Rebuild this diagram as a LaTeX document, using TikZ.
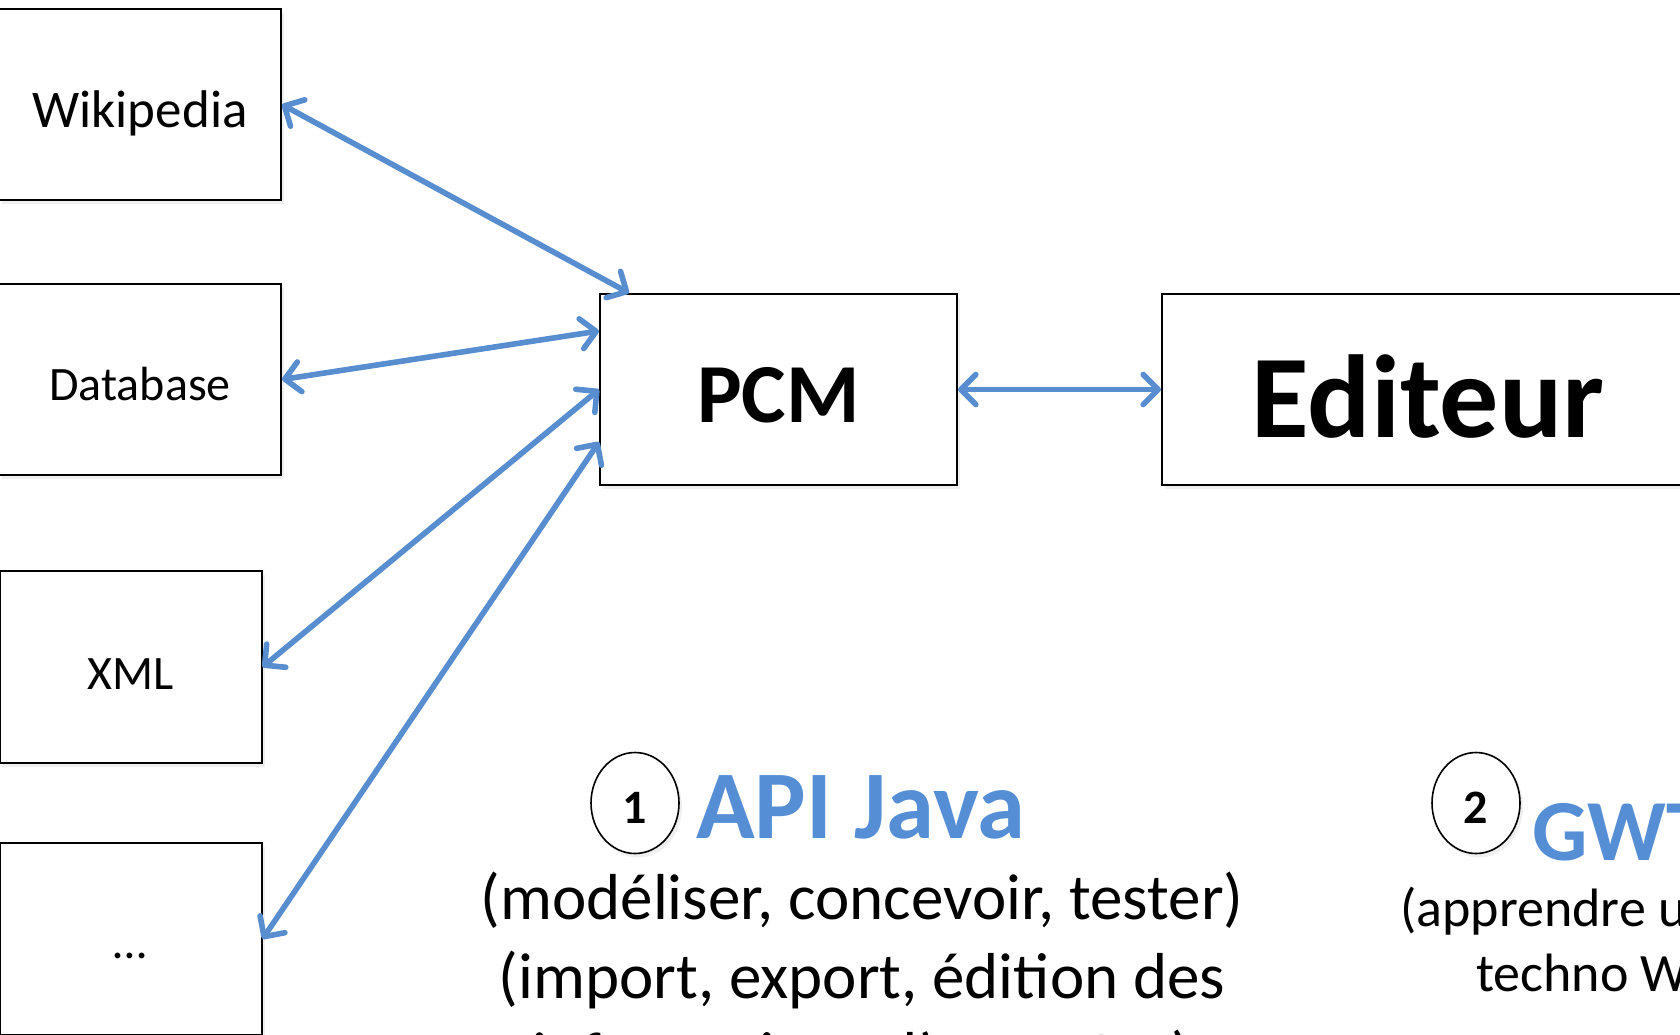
\documentclass[tikz,border=0pt]{standalone}
\usepackage{fontspec}
\setmainfont{Carlito}
\usetikzlibrary{arrows.meta,calc,shapes.geometric,shadows}
\definecolor{arrowblue}{RGB}{88,142,207}
\definecolor{titleblue}{RGB}{85,142,213}
\begin{document}
\begin{tikzpicture}[x=1pt,y=-1pt,
  shd/.style={drop shadow={opacity=0.13, shadow xshift=3pt, shadow yshift=-4pt}},
  box/.style={draw=black, line width=2pt, fill=white, inner sep=0pt, shd},
  num/.style={ellipse, draw=black, line width=1.6pt, fill=white, inner sep=0pt,
    minimum width=88pt, minimum height=101pt, shd,
    font=\bfseries\fontsize{48}{56}\selectfont, text height=40pt, text depth=0pt},
  link/.style={draw=arrowblue, line width=5.6pt,
    {Straight Barb[length=15pt,width=30pt,round]}-{Straight Barb[length=15pt,width=30pt,round]}},
  title/.style={anchor=base west, inner sep=0pt, text=titleblue},
  desc/.style={inner sep=0pt}
]
\useasboundingbox (0,0) rectangle (1680,1034);
\clip (0,0) rectangle (1680,1034);

% source boxes
\node[box, minimum width=282pt, minimum height=191pt,
  font=\fontsize{53}{62}\selectfont, text height=46pt, text depth=0pt]
  (wiki) at (140,104.5) {Wikipedia};
\node[box, minimum width=282pt, minimum height=191pt,
  font=\fontsize{48}{56}\selectfont, text height=41pt, text depth=0pt]
  (db) at (140,379.5) {Database};
\node[box, minimum width=262pt, minimum height=192pt,
  font=\fontsize{48}{56}\selectfont, text height=44pt, text depth=0pt]
  (xml) at (130.5,667) {XML};
\node[box, minimum width=262pt, minimum height=192pt,
  font=\fontsize{48}{56}\selectfont, text height=38pt, text depth=0pt]
  (dots) at (130.5,939) {…};

% central boxes
\node[box, minimum width=357pt, minimum height=191pt,
  font=\bfseries\fontsize{84}{100}\selectfont, text height=66pt, text depth=0pt]
  (pcm) at (778.5,389.5) {PCM};
\node[box, minimum width=532pt, minimum height=191pt,
  font=\bfseries\fontsize{118}{140}\selectfont, text height=95pt, text depth=0pt]
  (ed) at (1428,389.5) {Editeur};

% connectors
\draw[link] (wiki.east) -- ($(pcm.north west)+(30,0)$);
\draw[link] (db.east) -- ($(pcm.north west)+(0,38)$);
\draw[link] (pcm.west) -- (xml.east);
\draw[link] ($(pcm.south west)+(0,-44)$) -- (dots.east);
\draw[link] (pcm.east) -- (ed.west);

% step 1
\node[num] (c1) at (635,803) {1};
\node[title, font=\bfseries\fontsize{97}{116}\selectfont] (api) at (696,838) {API Java};
\node[desc, anchor=base, font=\fontsize{65}{78}\selectfont] (d1) at (862,919) {(modéliser, concevoir, tester)};
\node[desc, anchor=base, font=\fontsize{65}{78}\selectfont] (d2) at (862,998) {(import, export, édition des};
\node[desc, anchor=base, font=\fontsize{65}{78}\selectfont] (d3) at (862,1077) {informations d’une PCM)};

% step 2
\node[num] (c2) at (1476,803) {2};
\node[title, font=\bfseries\fontsize{87}{104}\selectfont] (gwt) at (1532,860) {GWT};
\node[desc, anchor=base west, font=\fontsize{54}{64}\selectfont] (g1) at (1400,926) {(apprendre une};
\node[desc, anchor=base west, font=\fontsize{54}{64}\selectfont] (g2) at (1476,991) {techno Web)};
\end{tikzpicture}
\end{document}
